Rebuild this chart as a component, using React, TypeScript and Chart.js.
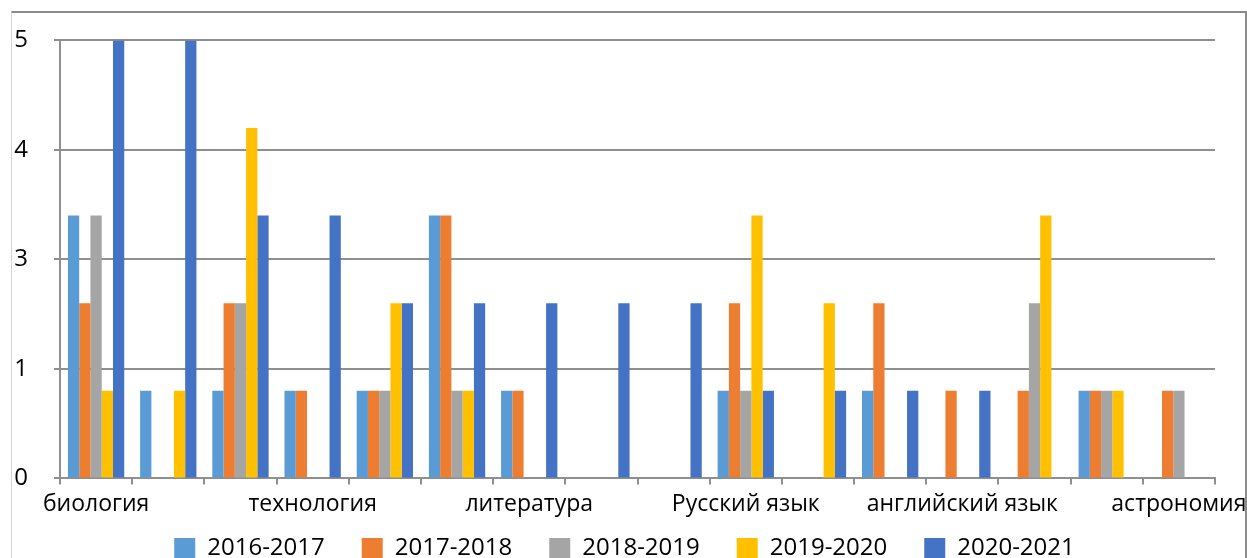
import React, { useEffect, useRef } from 'react';
import { Chart, registerables } from 'chart.js';

Chart.register(...registerables);

const categories = [
  'биология',
  'химия',
  'физика',
  'технология',
  'география',
  'история',
  'литература',
  'обществознание',
  'математика',
  'Русский язык',
  'информатика',
  'право',
  'английский язык',
  'экономика',
  'физическая культура',
  'астрономия',
];

const seriesNames = ['2016-2017', '2017-2018', '2018-2019', '2019-2020', '2020-2021'];

const values2016 = [3, 1, 1, 1, 1, 3, 1, 0, 0, 1, 0, 1, 0, 0, 1, 0];
const values2017 = [2, 0, 2, 1, 1, 3, 1, 0, 0, 2, 0, 2, 1, 1, 1, 1];
const values2018 = [3, 0, 2, 0, 1, 1, 0, 0, 0, 1, 0, 0, 0, 2, 1, 1];
const values2019 = [1, 1, 4, 0, 2, 1, 0, 0, 0, 3, 2, 0, 0, 3, 1, 0];
const values2020 = [5, 5, 3, 3, 2, 2, 2, 2, 2, 1, 1, 1, 1, 0, 0, 0];

const seriesColors = ['#5B9BD5', '#ED7D31', '#A5A5A5', '#FFC000', '#4472C4'];

const yMin = 0;
const yMax = 5;
const yStep = 1.25;

const FONT = '"Open Sans", sans-serif';
const GRID = '#8f8f8f';

// moves the legend row closer to the axis labels (Excel-like spacing)
const legendShift = {
  id: 'legendShift',
  afterLayout(chart: any) {
    const lg = chart.legend;
    if (lg) {
      lg.top -= 24.5;
      lg.bottom -= 24.5;
      lg.left += 12;
      lg.right += 12;
    }
  },
};

export default function App() {
  const ref = useRef<HTMLCanvasElement>(null);

  useEffect(() => {
    const allValues = [values2016, values2017, values2018, values2019, values2020];
    const chart = new Chart(ref.current as HTMLCanvasElement, {
      type: 'bar',
      data: {
        labels: categories,
        datasets: seriesNames.map((name, i) => ({
          label: name,
          data: allValues[i],
          backgroundColor: seriesColors[i],
          borderWidth: 0,
          categoryPercentage: 0.78,
          barPercentage: 1.0,
        })),
      },
      plugins: [legendShift],
      options: {
        animation: false,
        responsive: false,
        maintainAspectRatio: false,
        layout: { padding: { left: 10, right: 32, top: 37, bottom: 0 } },
        plugins: {
          tooltip: { enabled: false },
          legend: {
            position: 'bottom',
            labels: {
              boxWidth: 21,
              boxHeight: 21,
              padding: 37,
              color: '#000',
              font: { family: FONT, size: 24 },
            },
          },
        },
        scales: {
          x: {
            offset: true,
            grid: {
              offset: true,
              drawOnChartArea: false,
              drawTicks: true,
              tickLength: 6,
              color: GRID,
              lineWidth: 2,
            },
            border: { display: true, color: GRID, width: 2 },
            ticks: {
              autoSkip: false,
              maxRotation: 0,
              minRotation: 0,
              padding: 6,
              color: '#000',
              font: { family: FONT, size: 23 },
              callback: (_v: any, i: number) => (i % 3 === 0 ? categories[i] : ''),
            },
            afterFit: (s: any) => {
              s.paddingLeft = 0;
              s.paddingRight = 0;
            },
          },
          y: {
            min: yMin,
            max: yMax,
            grid: {
              color: GRID,
              lineWidth: 2,
              drawTicks: true,
              tickLength: 6,
            },
            border: { display: true, color: GRID, width: 2 },
            ticks: {
              stepSize: yStep,
              padding: 26,
              color: '#000',
              font: { family: FONT, size: 24 },
              callback: (v: any) => String(Math.round(Number(v))),
            },
            afterFit: (s: any) => {
              s.width = 50;
            },
          },
        },
      },
    });
    return () => chart.destroy();
  }, []);

  return (
    <div
      style={{
        position: 'fixed',
        left: 0,
        top: 0,
        width: 1247,
        height: 558,
        overflow: 'hidden',
        background: '#fff',
      }}
    >
      <canvas
        ref={ref}
        width={1247}
        height={595}
        style={{ position: 'absolute', left: 0, top: 0, width: 1247, height: 595 }}
      />
      <div
        style={{
          position: 'absolute',
          left: 11,
          top: 11,
          width: 1236,
          height: 620,
          boxSizing: 'border-box',
          borderTop: '2px solid #8c8c8c',
          borderRight: '2px solid #8c8c8c',
          borderLeft: '1px solid #d4d4d4',
          pointerEvents: 'none',
        }}
      />
    </div>
  );
}
